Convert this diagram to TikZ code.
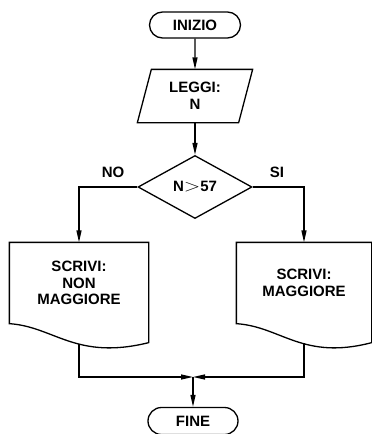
\documentclass[tikz,border=0pt]{standalone}
\usepackage{fontspec}
\usepackage{graphicx}
\setmainfont{Liberation Sans}
\usetikzlibrary{arrows.meta,shapes.geometric,shapes.misc}

\begin{document}
\begin{tikzpicture}[x=1pt, y=1pt, >={Triangle[length=12pt,width=5pt]}, line width=1.3pt,
  every node/.style={font=\bfseries\fontsize{15}{16.5}\selectfont, align=center},
  term/.style={draw, rounded rectangle, minimum width=91, minimum height=26, inner sep=0pt},
  iobox/.style={minimum width=100, minimum height=52, inner sep=0pt},
  test/.style={draw, diamond, aspect=1.8, minimum width=114, minimum height=63, inner sep=0pt},
  docbox/.style={minimum height=80, inner sep=0pt}]
\useasboundingbox (0,0) rectangle (372,-434);

\node[term] (start) at (195,-25) {INIZIO};
\node[iobox] (read) at (195,-96) {LEGGI:\\N};
\draw ([xshift=7]read.north west) -- ([xshift=7]read.north east)
  -- ([xshift=-7]read.south east) -- ([xshift=-7]read.south west) -- cycle;
\node[test] (cmp) at (195,-187) {N\scalebox{1.5}[1.2]{$>$}57};
\node (no) at (113,-172) {NO};
\node (si) at (277,-172) {SI};

\node[docbox, minimum width=138] (nonmag) at (79,-283) {SCRIVI:\\NON\\MAGGIORE};
\draw (nonmag.north east) -- (nonmag.north west) -- (nonmag.south west)
  .. controls +(45,-3) and ([xshift=-73,yshift=-37]nonmag.south east) .. ([yshift=-19]nonmag.south east) -- cycle;
\node[docbox, minimum width=134] (mag) at (304,-283) {SCRIVI:\\MAGGIORE};
\draw (mag.north east) -- (mag.north west) -- (mag.south west)
  .. controls +(45,-3) and ([xshift=-69,yshift=-37]mag.south east) .. ([yshift=-19]mag.south east) -- cycle;

\node[term, minimum width=90, minimum height=27] (stop) at (193,-421) {FINE};

\coordinate (lout) at (79,-344);
\coordinate (rout) at (304,-343);
\coordinate (join) at (193,-377);

\draw[->] (start) -- (read);
\draw[->] (read) -- (cmp);
\draw[->] (cmp.west) -| (nonmag.north);
\draw[->] (cmp.east) -| (mag.north);
\draw[->] (lout) |- (join);
\draw[->] (rout) |- (join);
\draw[->] (join) -- (stop);
\end{tikzpicture}
\end{document}
